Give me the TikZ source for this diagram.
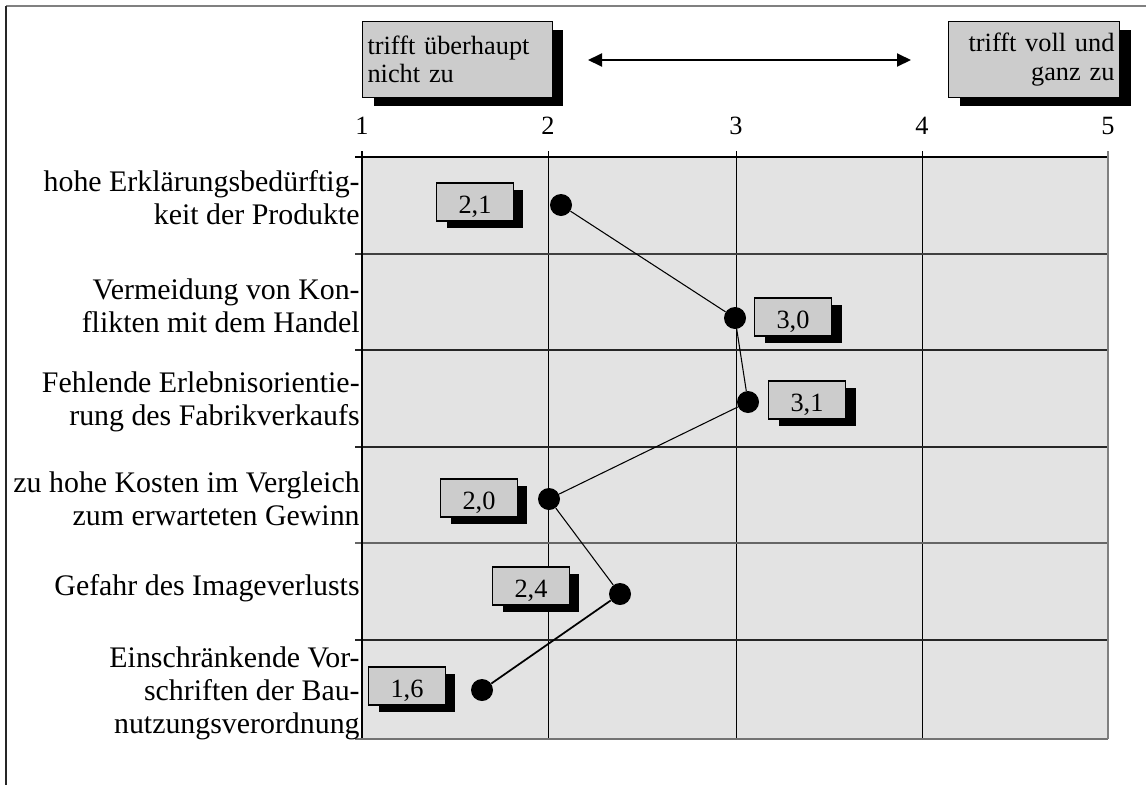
\documentclass[tikz,border=0pt]{standalone}
\usepackage{fontspec}
\setmainfont{Liberation Serif}
\usetikzlibrary{arrows.meta,shadows}
\definecolor{plotgray}{gray}{0.89}
\definecolor{boxgray}{gray}{0.8}
\tikzset{
  valbox/.style={draw,line width=0.6pt,fill=boxgray,minimum width=1.54cm,minimum height=0.76cm,
    inner sep=0pt,text height=0.44cm,text depth=0pt,font=\fontsize{15}{18}\selectfont,
    drop shadow={shadow xshift=0.2cm,shadow yshift=-0.14cm,fill=black,opacity=1}},
  topbox/.style={draw,line width=0.6pt,fill=boxgray,minimum height=1.52cm,
    inner xsep=0.1cm,inner ysep=0pt,font=\fontsize{15}{16}\selectfont,anchor=north west,
    drop shadow={shadow xshift=0.22cm,shadow yshift=-0.16cm,fill=black,opacity=1}},
  datadot/.style={circle,fill=black,minimum size=0.44cm,inner sep=0pt},
  rowlabel/.style={anchor=east,align=right,font=\fontsize{17}{18.8}\selectfont,inner sep=0pt},
  ticklabel/.style={font=\fontsize{15}{18}\selectfont,inner sep=0pt},
}
\begin{document}
\begin{tikzpicture}[x=0.02cm,y=-0.02cm]
    \useasboundingbox (0,0) rectangle (1146,785);
    % frame
    \draw[gray,line width=0.8pt] (6,6) -- (1146,6);
    \draw[black!85,line width=1.1pt] (6,6) -- (6,785);
    % plot area
    \fill[plotgray] (362,157) rectangle (1108,739);
    \draw[line width=0.5pt] (548,151) -- (548,739);
    \draw[line width=0.5pt] (736,151) -- (736,739);
    \draw[line width=0.5pt] (922,151) -- (922,739);
    \draw[black!75,line width=0.6pt] (355,254) -- (1108,254);
    \draw[black!85,line width=0.6pt] (355,350) -- (1108,350);
    \draw[black!85,line width=0.6pt] (355,447) -- (1108,447);
    \draw[black!60,line width=0.7pt] (355,543) -- (1108,543);
    \draw[black!85,line width=0.6pt] (355,640) -- (1108,640);
    \draw[line width=0.6pt] (355,157) -- (1108,157);
    \draw[line width=0.6pt] (362,151) -- (362,739);
    \draw[black!55,line width=1.2pt] (355,739) -- (1108,739);
    \draw[black!50,line width=1pt] (1108,151) -- (1108,739);
    % scale
    \node[ticklabel] (t1) at (362,126) {1};
    \node[ticklabel] (t2) at (548,126) {2};
    \node[ticklabel] (t3) at (736,126) {3};
    \node[ticklabel] (t4) at (922,126) {4};
    \node[ticklabel] (t5) at (1108,126) {5};
    \node[topbox,text width=3.6cm,align=left] (low) at (362,21) {trifft überhaupt\\nicht zu};
    \node[topbox,text width=3.22cm,align=right] (high) at (948,21) {trifft voll und\\ganz zu};
    \coordinate (arrl) at (588,60);
    \coordinate (arrr) at (911,60);
    \draw[{Triangle[length=0.28cm,width=0.26cm]}-{Triangle[length=0.28cm,width=0.26cm]},line width=1.1pt] (arrl) -- (arrr);
    % items
    \node[rowlabel] (r1) at (360,198) {hohe Erklärungsbedürftig-\\keit der Produkte};
    \node[rowlabel] (r2) at (360,306) {Vermeidung von Kon-\\flikten mit dem Handel};
    \node[rowlabel] (r3) at (360,402) {Fehlende Erlebnisorientie-\\rung des Fabrikverkaufs};
    \node[rowlabel] (r4) at (360,499) {zu hohe Kosten im Vergleich\\zum erwarteten Gewinn};
    \node[rowlabel] (r5) at (360,588) {Gefahr des Imageverlusts};
    \node[rowlabel] (r6) at (360,693) {Einschränkende Vor-\\schriften der Bau-\\nutzungsverordnung};
    % values
    \node[valbox] (v1) at (475,202) {2,1};
    \node[valbox] (v2) at (793,317) {3,0};
    \node[valbox] (v3) at (807,400) {3,1};
    \node[valbox] (v4) at (479,498) {2,0};
    \node[valbox] (v5) at (531,586) {2,4};
    \node[valbox] (v6) at (407,686) {1,6};
    \node[datadot] (d1) at (561,205) {};
    \node[datadot] (d2) at (735,318) {};
    \node[datadot] (d3) at (748,402) {};
    \node[datadot] (d4) at (549,499) {};
    \node[datadot] (d5) at (620,594) {};
    \node[datadot] (d6) at (482,690) {};
    \draw[line width=0.6pt] (d1) -- (d2) -- (d3) -- (d4) -- (d5);
    \draw[line width=1pt] (d5) -- (d6);
\end{tikzpicture}
\end{document}
